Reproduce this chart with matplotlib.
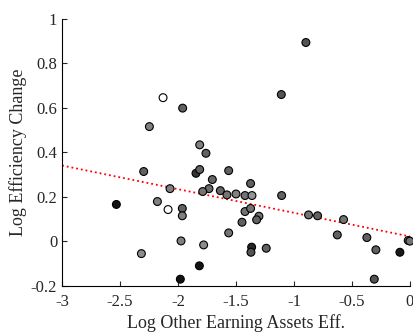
import numpy as np
import matplotlib
matplotlib.use("Agg")
import matplotlib.pyplot as plt

plt.rcParams['font.family'] = ['Liberation Serif', 'DejaVu Serif']

# points: x, y, fill grey level
x_vals = [-0.897, -1.109, -2.129, -1.960, -2.247, -1.813, -1.759, -2.296, -1.845, -1.813,
          -1.563, -1.704, -1.374, -1.733, -2.069, -1.787, -1.635, -1.578, -1.500, -1.422,
          -1.362, -1.106, -2.178, -2.532, -2.086, -1.963, -1.963, -1.422, -1.374, -1.302,
          -1.322, -1.448, -0.874, -0.796, -0.572, -1.563, -0.626, -0.371, -1.974, -0.014,
          0.000, -1.779, -1.365, -1.239, -0.293, -1.371, -0.086, -2.316, -1.816, -1.980,
          -0.307]
y_vals = [0.894, 0.660, 0.646, 0.599, 0.516, 0.434, 0.396, 0.314, 0.306, 0.323,
          0.318, 0.278, 0.260, 0.237, 0.237, 0.224, 0.228, 0.209, 0.213, 0.206,
          0.206, 0.206, 0.179, 0.166, 0.143, 0.148, 0.115, 0.134, 0.148, 0.113,
          0.097, 0.086, 0.119, 0.115, 0.098, 0.038, 0.029, 0.017, 0.002, 0.004,
          0.001, -0.016, -0.026, -0.031, -0.038, -0.049, -0.049, -0.055, -0.110, -0.170,
          -0.170]
grey = [0.33, 0.33, 1.00, 0.38, 0.50, 0.50, 0.38, 0.38, 0.20, 0.38,
        0.38, 0.40, 0.38, 0.42, 0.50, 0.45, 0.40, 0.45, 0.50, 0.45,
        0.58, 0.38, 0.50, 0.07, 1.00, 0.38, 0.50, 0.45, 0.45, 0.45,
        0.38, 0.38, 0.45, 0.38, 0.45, 0.45, 0.38, 0.38, 0.50, 0.45,
        0.45, 0.55, 0.15, 0.38, 0.38, 0.33, 0.10, 0.55, 0.07, 0.07,
        0.33]

# fitted line end points
fit_x = [-3, 0]
fit_y = [0.341, 0.022]

fig = plt.figure(figsize=(4.14, 3.32), dpi=100)
ax = fig.add_axes([0.150, 0.139, 0.840, 0.804])

ax.plot(fit_x, fit_y, linestyle=':', color='red', linewidth=1.3, zorder=1)
ax.scatter(x_vals, y_vals, s=32, c=[str(g) for g in grey], edgecolors='black',
           linewidths=0.8, zorder=2, clip_on=False)

ax.set_xlim(-3, 0)
ax.set_ylim(-0.2, 1)
ax.set_xticks([-3, -2.5, -2, -1.5, -1, -0.5, 0])
ax.set_xticklabels(['-3', '-2.5', '-2', '-1.5', '-1', '-0.5', '0'])
ax.set_yticks([-0.2, 0, 0.2, 0.4, 0.6, 0.8, 1])
ax.set_yticklabels(['-0.2', '0', '0.2', '0.4', '0.6', '0.8', '1'])
ax.spines['top'].set_visible(False)
ax.spines['right'].set_visible(False)
ax.tick_params(direction='in', length=3.5, labelsize=12, colors='#262626')
ax.tick_params(axis='x', pad=6)
ax.set_xlabel('Log Other Earning Assets Eff.', fontsize=13, color='#262626', labelpad=3)
ax.set_ylabel('Log Efficiency Change', fontsize=13, color='#262626', labelpad=3)

fig.savefig('out.png', dpi=100, facecolor='white')
